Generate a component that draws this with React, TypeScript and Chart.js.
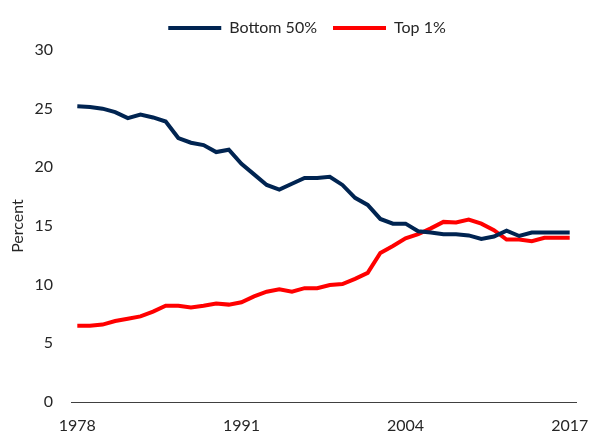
import React, { useEffect, useRef } from "react";
import { Chart, registerables } from "chart.js";

Chart.register(...registerables);

const years: string[] = [];
for (let y = 1978; y <= 2017; y++) years.push(String(y));

const bottom50 = [
  25.2, 25.15, 25.0, 24.7, 24.2, 24.5, 24.25, 23.9, 22.5, 22.1,
  21.9, 21.3, 21.5, 20.3, 19.4, 18.5, 18.1, 18.6, 19.1, 19.1,
  19.2, 18.5, 17.4, 16.8, 15.6, 15.2, 15.2, 14.55, 14.45, 14.3,
  14.3, 14.2, 13.9, 14.1, 14.6, 14.15, 14.45, 14.45, 14.45, 14.45,
];

const top1 = [
  6.5, 6.5, 6.6, 6.9, 7.1, 7.3, 7.7, 8.2, 8.2, 8.05,
  8.2, 8.4, 8.3, 8.5, 9.0, 9.4, 9.6, 9.4, 9.7, 9.7,
  9.97, 10.05, 10.5, 11.0, 12.7, 13.3, 13.95, 14.3, 14.8, 15.35,
  15.3, 15.55, 15.2, 14.65, 13.85, 13.85, 13.7, 14.0, 14.0, 14.0,
];

const shownYears = ["1978", "1991", "2004", "2017"];

const NAVY = "#002451";
const RED = "#FF0000";
const TEXT = "#262626";
const FONT = "Lato, 'Open Sans', sans-serif";

const layoutTweaks = {
  id: "layoutTweaks",
  beforeInit(chart: any) {
    const legend = chart.legend;
    if (!legend) return;
    const origFit = legend.fit;
    legend.fit = function () {
      origFit.call(this);
      this.height = 46;
    };
  },
  afterLayout(chart: any) {
    const legend = chart.legend;
    if (!legend) return;
    legend.left += 19;
    legend.right += 19;
  },
};

export default function App() {
  const ref = useRef<HTMLCanvasElement>(null);
  useEffect(() => {
    if (!ref.current) return;
    const chart = new Chart(ref.current, {
      type: "line",
      data: {
        labels: years,
        datasets: [
          {
            label: "Bottom 50%",
            data: bottom50,
            borderColor: NAVY,
            backgroundColor: NAVY,
            borderWidth: 4,
            pointRadius: 0,
            tension: 0,
          },
          {
            label: "Top 1%",
            data: top1,
            borderColor: RED,
            backgroundColor: RED,
            borderWidth: 4,
            pointRadius: 0,
            tension: 0,
          },
        ],
      },
      plugins: [layoutTweaks],
      options: {
        responsive: false,
        animation: false,
        layout: { padding: { top: 4, right: 13, left: 0, bottom: 0 } },
        plugins: {
          tooltip: { enabled: false },
          legend: {
            position: "top",
            labels: {
              color: TEXT,
              font: { family: FONT, size: 16 },
              boxWidth: 53,
              boxHeight: 4,
              padding: 16,
              generateLabels: (c: any) =>
                Chart.defaults.plugins.legend.labels
                  .generateLabels(c)
                  .map((l: any) => ({ ...l, lineWidth: 0, fillStyle: l.strokeStyle })),
            },
          },
        },
        scales: {
          x: {
            type: "category",
            offset: true,
            grid: { display: false, drawTicks: false },
            border: { display: true, color: "#404040", width: 1 },
            ticks: {
              autoSkip: false,
              maxRotation: 0,
              color: TEXT,
              font: { family: FONT, size: 16 },
              padding: 14,
              callback: (_v: any, i: number) =>
                shownYears.includes(years[i]) ? years[i] : null,
            },
            afterFit: (s: any) => {
              s.height = 34;
              s.paddingLeft = 0;
              s.paddingRight = 0;
            },
          },
          y: {
            min: 0,
            max: 30,
            grid: { display: false, drawTicks: false },
            border: { display: false },
            ticks: {
              stepSize: 5,
              color: TEXT,
              font: { family: FONT, size: 16 },
              padding: 18,
            },
            title: {
              display: true,
              text: "Percent",
              color: TEXT,
              font: { family: FONT, size: 16 },
              padding: { top: 8, bottom: 0 },
            },
            afterFit: (s: any) => {
              s.width = 71;
              s.paddingTop = 0;
              s.paddingBottom = 0;
            },
          },
        },
      },
    });
    return () => chart.destroy();
  }, []);
  return (
    <div style={{ position: "fixed", left: 0, top: 0, width: 589, height: 436, background: "#fff" }}>
      <canvas ref={ref} width={589} height={436} />
    </div>
  );
}
